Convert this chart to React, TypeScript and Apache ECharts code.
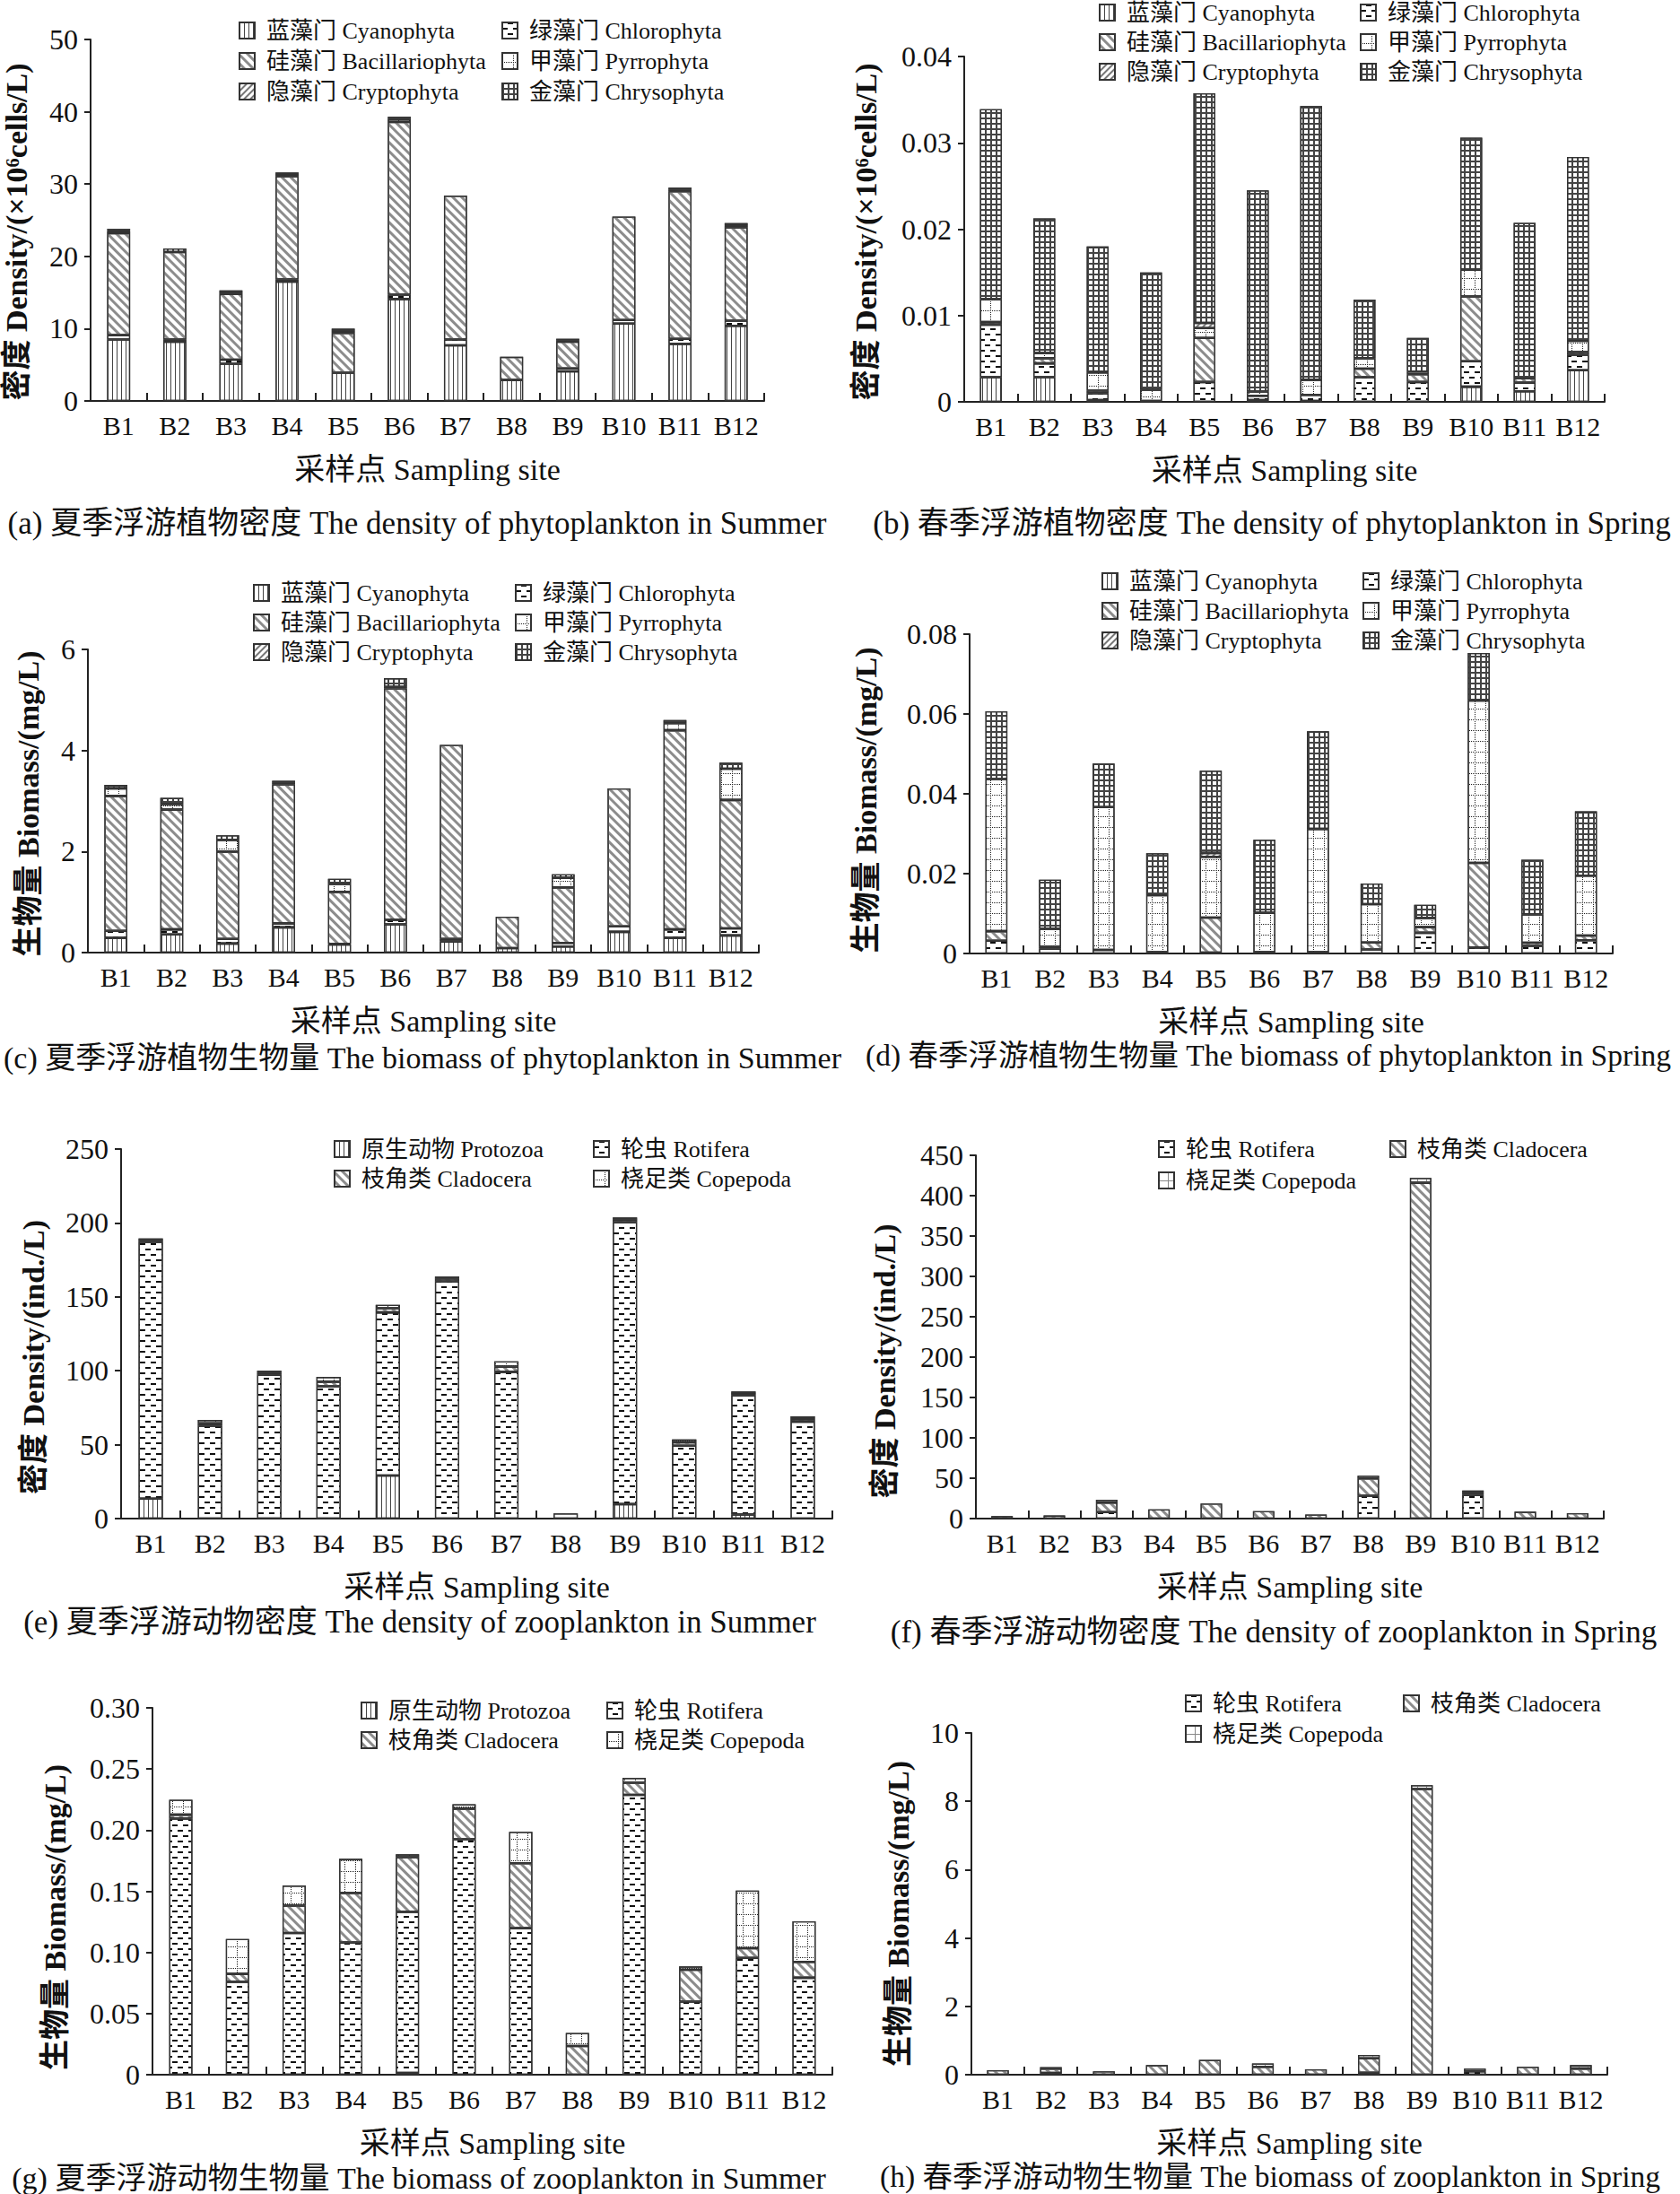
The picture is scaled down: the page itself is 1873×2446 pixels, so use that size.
import React, { useEffect, useRef } from 'react';
import * as echarts from 'echarts';

const sites = ['B1', 'B2', 'B3', 'B4', 'B5', 'B6', 'B7', 'B8', 'B9', 'B10', 'B11', 'B12'];

const phytoNames = ['蓝藻门 Cyanophyta', '绿藻门 Chlorophyta', '硅藻门 Bacillariophyta', '甲藻门 Pyrrophyta', '隐藻门 Cryptophyta', '金藻门 Chrysophyta'];
const zooNames4 = ['原生动物 Protozoa', '轮虫 Rotifera', '枝角类 Cladocera', '桡足类 Copepoda'];
const zooNames3 = ['轮虫 Rotifera', '枝角类 Cladocera', '桡足类 Copepoda'];

// (a) summer phytoplankton density, x10^6 cells/L
const aCyanophyta = [8.5, 8.2, 5.15, 16.5, 3.9, 14.1, 7.7, 2.9, 4.1, 10.7, 7.9, 10.4];
const aChlorophyta = [0.6, 0.3, 0.55, 0.3, 0, 0.6, 0.8, 0, 0.4, 0.5, 0.7, 0.7];
const aBacillariophyta = [14.1, 12.1, 9.1, 14.3, 5.5, 23.9, 19.9, 3.2, 3.7, 14.3, 20.4, 12.9];
const aPyrrophyta = [0.3, 0, 0.3, 0.3, 0.3, 0.4, 0, 0, 0.2, 0, 0.2, 0.3];
const aCryptophyta = [0.1, 0, 0, 0, 0, 0, 0, 0, 0, 0, 0, 0];
const aChrysophyta = [0.2, 0.5, 0.2, 0.2, 0.3, 0.3, 0, 0, 0.2, 0, 0.3, 0.3];

// (b) spring phytoplankton density
const bCyanophyta = [0.00285, 0.00285, 0.0002, 0.0001, 0, 0.0002, 0.0001, 0, 0, 0.00175, 0.00122, 0.00366];
const bChlorophyta = [0.0061, 0.0016, 0.0008, 0, 0.0023, 0.0005, 0.0007, 0.00285, 0.0023, 0.00295, 0.001, 0.0018];
const bBacillariophyta = [0.0003, 0.0006, 0.0003, 0, 0.0051, 0, 0, 0.001, 0.0009, 0.0075, 0.0005, 0.0003];
const bPyrrophyta = [0.00265, 0.0006, 0.0021, 0.0013, 0.00115, 0.0005, 0.00176, 0.0012, 0.0003, 0.0031, 0, 0.0013];
const bCryptophyta = [0, 0, 0, 0, 0.0006, 0, 0, 0, 0, 0, 0, 0];
const bChrysophyta = [0.022, 0.0156, 0.0146, 0.0136, 0.0266, 0.0233, 0.0317, 0.0068, 0.0039, 0.0153, 0.018, 0.0213];

// (c) summer phytoplankton biomass, mg/L
const cCyanophyta = [0.29, 0.36, 0.18, 0.5, 0.16, 0.56, 0.22, 0.09, 0.12, 0.41, 0.29, 0.34];
const cChlorophyta = [0.14, 0.1, 0.09, 0.08, 0.01, 0.09, 0.05, 0, 0.07, 0.11, 0.17, 0.14];
const cBacillariophyta = [2.67, 2.37, 1.73, 2.75, 1.03, 4.58, 3.84, 0.62, 1.1, 2.73, 3.94, 2.54];
const cPyrrophyta = [0.15, 0.11, 0.23, 0.03, 0.16, 0.03, 0, 0, 0.19, 0, 0.14, 0.62];
const cCryptophyta = [0, 0, 0, 0, 0, 0, 0, 0, 0, 0, 0, 0];
const cChrysophyta = [0.07, 0.12, 0.09, 0.04, 0.1, 0.17, 0, 0, 0.07, 0, 0.06, 0.12];

// (d) spring phytoplankton biomass
const dCyanophyta = [0, 0, 0, 0, 0, 0, 0, 0, 0, 0, 0, 0];
const dChlorophyta = [0.0032, 0.0012, 0.0009, 0.0003, 0.0002, 0.0003, 0.0003, 0.001, 0.0052, 0.0015, 0.0019, 0.0033];
const dBacillariophyta = [0.0024, 0.0005, 0, 0, 0.0088, 0, 0, 0.00175, 0.0014, 0.0212, 0.0008, 0.0012];
const dPyrrophyta = [0.0381, 0.0045, 0.0358, 0.0143, 0.0152, 0.0099, 0.0309, 0.0096, 0.0023, 0.0407, 0.0071, 0.015];
const dCryptophyta = [0, 0, 0, 0, 0.001, 0, 0, 0, 0, 0, 0, 0];
const dChrysophyta = [0.017, 0.0123, 0.0109, 0.0105, 0.0206, 0.0183, 0.0245, 0.0052, 0.0033, 0.0119, 0.0137, 0.0161];

// (e) summer zooplankton density, ind./L
const eProtozoa = [13.5, 0, 0, 0, 29.1, 0, 0, 0, 9.8, 0, 2.8, 0];
const eRotifera = [173.7, 62.8, 97.2, 89.5, 110.4, 160.5, 99.3, 3.5, 190.7, 49.3, 80.5, 65.6];
const eCladocera = [1.2, 1.6, 1.6, 3.1, 2.8, 1.8, 3.5, 0, 1.8, 2.3, 1.6, 1.8];
const eCopepoda = [1.1, 2.3, 1.2, 3.2, 2.3, 1.4, 3.5, 0, 1.4, 1.9, 1.1, 1.7];

// (f) spring zooplankton density
const fRotifera = [0, 0, 8.1, 0, 0, 0, 0, 28.4, 0, 29.3, 0, 0];
const fCladocera = [3.0, 3.8, 11.8, 11.5, 18.7, 9.3, 5.1, 21.3, 416, 2.5, 8.5, 6.8];
const fCopepoda = [0, 0, 3.4, 0, 0, 0, 0, 3.4, 5.9, 3.0, 0, 0];

// (g) summer zooplankton biomass, mg/L
const gProtozoa = [0, 0, 0, 0, 0.0014, 0, 0, 0, 0, 0, 0, 0];
const gRotifera = [0.2095, 0.076, 0.1159, 0.1081, 0.1318, 0.1925, 0.1198, 0, 0.2288, 0.0598, 0.0955, 0.0793];
const gCladocera = [0.0031, 0.0064, 0.0224, 0.0405, 0.0447, 0.0251, 0.0531, 0.0235, 0.01, 0.026, 0.0079, 0.0129];
const gCopepoda = [0.0123, 0.0285, 0.0164, 0.0279, 0.0023, 0.0036, 0.0257, 0.0106, 0.0039, 0.0027, 0.0472, 0.0332];

// (h) spring zooplankton biomass
const hRotifera = [0, 0.05, 0, 0, 0, 0, 0, 0.06, 0, 0.1, 0, 0];
const hCladocera = [0.13, 0.13, 0.1, 0.28, 0.43, 0.23, 0.16, 0.42, 8.36, 0.08, 0.23, 0.18];
const hCopepoda = [0, 0.04, 0, 0, 0, 0.1, 0, 0.1, 0.11, 0, 0, 0.1];

// ---------- styles ----------
const FONT = "'Liberation Serif', 'Times New Roman', 'Noto Sans CJK SC', serif";
const INK = '#222';

const decalVLine = { symbol: 'rect', symbolSize: 1, color: '#444', dashArrayX: [1, 4], dashArrayY: [10, 0] };
const decalDash = { symbol: 'rect', symbolSize: 1, color: '#111', dashArrayX: [[6, 6], [0, 6, 6, 0]], dashArrayY: [2, 4] };
const decalBack = { symbol: 'rect', symbolSize: 1, color: '#8c8c8c', dashArrayX: [10, 0], dashArrayY: [3, 4], rotation: Math.PI / 4 };
const decalFwd = { symbol: 'rect', symbolSize: 1, color: '#777', dashArrayX: [10, 0], dashArrayY: [2, 3], rotation: -Math.PI / 4 };
const decalDotGrid = { symbol: 'rect', symbolSize: 1, color: '#222', dashArrayX: [[1, 1], [1, 11], [1, 11], [1, 11], [1, 11], [1, 11]], dashArrayY: [1, 1] };
const decalGrid = { symbol: 'rect', symbolSize: 1, color: '#444', dashArrayX: [[1, 0], [1, 0], [2, 4], [2, 4], [2, 4], [2, 4]], dashArrayY: [1, 0] };
const decalGrayGrid = { symbol: 'rect', symbolSize: 1, color: '#888', dashArrayX: [[1, 0], [1, 9], [1, 9], [1, 9], [1, 9], [1, 9], [1, 9], [1, 9], [1, 9], [1, 9]], dashArrayY: [1, 0] };

const phytoDecals = [decalVLine, decalDash, decalBack, decalDotGrid, decalFwd, decalGrid];
const zoo4Decals = [decalVLine, decalDash, decalBack, decalDotGrid];
const zoo3Decals = [decalDash, decalBack, decalGrayGrid];

const fmtInt = (v: number) => String(Math.round(v));
const fmt2 = (v: number) => (v === 0 ? '0' : v.toFixed(2));

const Y_DENS_PHYTO = '密度 Density/(×10⁶cells/L)';
const Y_BIO = '生物量 Biomass/(mg/L)';
const Y_DENS_ZOO = '密度 Density/(ind./L)';

type Panel = {
  key: string;
  grid: { left: number; top: number; width: number; height: number };
  max: number;
  interval: number;
  fmt: (v: number) => string;
  yName: string;
  yGap: number;
  yShift: number;
  names: string[];
  values: number[][];
  decals: any[];
  col1: string[];
  col2: string[];
  legend: { top: number; c1: number; c2: number; gap: number };
  caption: { x: number; y: number; size: number; text: string };
};

const phytoCol1 = [phytoNames[0], phytoNames[2], phytoNames[4]];
const phytoCol2 = [phytoNames[1], phytoNames[3], phytoNames[5]];
const zoo4Col1 = [zooNames4[0], zooNames4[2]];
const zoo4Col2 = [zooNames4[1], zooNames4[3]];
const zoo3Col1 = [zooNames3[0], zooNames3[2]];
const zoo3Col2 = [zooNames3[1]];

const panels: Panel[] = [
  {
    key: 'a', grid: { left: 99, top: 44, width: 753, height: 403 }, max: 50, interval: 10, fmt: fmtInt,
    yName: Y_DENS_PHYTO, yGap: 66, yShift: 13, names: phytoNames,
    values: [aCyanophyta, aChlorophyta, aBacillariophyta, aPyrrophyta, aCryptophyta, aChrysophyta], decals: phytoDecals,
    col1: phytoCol1, col2: phytoCol2, legend: { top: 21, c1: 266, c2: 559, gap: 8 },
    caption: { x: 465, y: 583, size: 35, text: '(a) 夏季浮游植物密度 The density of phytoplankton in Summer' },
  },
  {
    key: 'b', grid: { left: 1075, top: 63, width: 714, height: 385 }, max: 0.04, interval: 0.01, fmt: fmt2,
    yName: Y_DENS_PHYTO, yGap: 93, yShift: 3, names: phytoNames,
    values: [bCyanophyta, bChlorophyta, bBacillariophyta, bPyrrophyta, bCryptophyta, bChrysophyta], decals: phytoDecals,
    col1: phytoCol1, col2: phytoCol2, legend: { top: 1, c1: 1225, c2: 1516, gap: 7 },
    caption: { x: 1418, y: 583, size: 35, text: '(b) 春季浮游植物密度 The density of phytoplankton in Spring' },
  },
  {
    key: 'c', grid: { left: 98, top: 724, width: 748, height: 338 }, max: 6, interval: 2, fmt: fmtInt,
    yName: Y_BIO, yGap: 50, yShift: 3, names: phytoNames,
    values: [cCyanophyta, cChlorophyta, cBacillariophyta, cPyrrophyta, cCryptophyta, cChrysophyta], decals: phytoDecals,
    col1: phytoCol1, col2: phytoCol2, legend: { top: 648, c1: 282, c2: 574, gap: 7 },
    caption: { x: 471, y: 1179, size: 34, text: '(c) 夏季浮游植物生物量 The biomass of phytoplankton in Summer' },
  },
  {
    key: 'd', grid: { left: 1081, top: 707, width: 717, height: 356 }, max: 0.08, interval: 0.02, fmt: fmt2,
    yName: Y_BIO, yGap: 99, yShift: 7, names: phytoNames,
    values: [dCyanophyta, dChlorophyta, dBacillariophyta, dPyrrophyta, dCryptophyta, dChrysophyta], decals: phytoDecals,
    col1: phytoCol1, col2: phytoCol2, legend: { top: 635, c1: 1228, c2: 1519, gap: 7 },
    caption: { x: 1414, y: 1176, size: 33.5, text: '(d) 春季浮游植物生物量 The biomass of phytoplankton in Spring' },
  },
  {
    key: 'e', grid: { left: 135, top: 1281, width: 793, height: 412 }, max: 250, interval: 50, fmt: fmtInt,
    yName: Y_DENS_ZOO, yGap: 81, yShift: 26, names: zooNames4,
    values: [eProtozoa, eRotifera, eCladocera, eCopepoda], decals: zoo4Decals,
    col1: zoo4Col1, col2: zoo4Col2, legend: { top: 1268, c1: 372, c2: 661, gap: 7 },
    caption: { x: 468, y: 1808, size: 35, text: '(e) 夏季浮游动物密度 The density of zooplankton in Summer' },
  },
  {
    key: 'f', grid: { left: 1088, top: 1288, width: 700, height: 405 }, max: 450, interval: 50, fmt: fmtInt,
    yName: Y_DENS_ZOO, yGap: 85, yShift: 27, names: zooNames3,
    values: [fRotifera, fCladocera, fCopepoda], decals: zoo3Decals,
    col1: zoo3Col1, col2: zoo3Col2, legend: { top: 1268, c1: 1291, c2: 1549, gap: 9 },
    caption: { x: 1420, y: 1819, size: 35, text: '(f) 春季浮游动物密度 The density of zooplankton in Spring' },
  },
  {
    key: 'g', grid: { left: 170, top: 1904, width: 758, height: 409 }, max: 0.3, interval: 0.05, fmt: fmt2,
    yName: Y_BIO, yGap: 92, yShift: 29, names: zooNames4,
    values: [gProtozoa, gRotifera, gCladocera, gCopepoda], decals: zoo4Decals,
    col1: zoo4Col1, col2: zoo4Col2, legend: { top: 1894, c1: 402, c2: 676, gap: 7 },
    caption: { x: 467, y: 2428, size: 34, text: '(g) 夏季浮游动物生物量 The biomass of zooplankton in Summer' },
  },
  {
    key: 'h', grid: { left: 1083, top: 1932, width: 709, height: 381 }, max: 10, interval: 2, fmt: fmtInt,
    yName: Y_BIO, yGap: 65, yShift: 11, names: zooNames3,
    values: [hRotifera, hCladocera, hCopepoda], decals: zoo3Decals,
    col1: zoo3Col1, col2: zoo3Col2, legend: { top: 1886, c1: 1321, c2: 1564, gap: 8 },
    caption: { x: 1416, y: 2426, size: 33.5, text: '(h) 春季浮游动物生物量 The biomass of zooplankton in Spring' },
  },
];

function buildOption() {
  const grid: any[] = [];
  const xAxis: any[] = [];
  const yAxis: any[] = [];
  const series: any[] = [];
  const legend: any[] = [];
  const title: any[] = [];

  panels.forEach((p, i) => {
    grid.push({ ...p.grid, containLabel: false });
    xAxis.push({
      type: 'category', gridIndex: i, data: sites,
      name: '采样点 Sampling site', nameLocation: 'middle', nameGap: 59,
      nameTextStyle: { fontFamily: FONT, fontSize: 34, color: '#111' },
      axisLine: { show: true, lineStyle: { color: INK, width: 2 } },
      axisTick: { show: true, inside: true, length: 9, alignWithLabel: false, lineStyle: { color: INK, width: 2 } },
      axisLabel: { interval: 0, fontFamily: FONT, fontSize: 30, color: '#111', margin: 12 },
      splitLine: { show: false },
    });
    yAxis.push({
      type: 'value', gridIndex: i, min: 0, max: p.max, interval: p.interval,
      name: p.yName, nameLocation: 'middle', nameGap: p.yGap,
      nameTextStyle: { fontFamily: FONT, fontSize: 34, fontWeight: 'bold', color: '#111', padding: [0, p.yShift * 2, 0, 0] },
      axisLine: { show: true, lineStyle: { color: INK, width: 2 } },
      axisTick: { show: true, inside: false, length: 7, lineStyle: { color: INK, width: 2 } },
      axisLabel: { fontFamily: FONT, fontSize: 32, color: '#111', margin: 14, formatter: p.fmt },
      splitLine: { show: false },
    });
    p.names.forEach((n, k) => {
      series.push({
        type: 'bar', name: p.key + '|' + n, stack: p.key, xAxisIndex: i, yAxisIndex: i,
        data: p.values[k].map((v) => (v === 0 ? null : v)),
        barWidth: '41%',
        itemStyle: { color: '#ffffff', borderColor: '#333', borderWidth: 1.3, decal: p.decals[k] },
        emphasis: { disabled: true },
      });
    });
    const legendBase = {
      orient: 'vertical', top: p.legend.top, itemWidth: 17, itemHeight: 18, itemGap: p.legend.gap,
      padding: 0, selectedMode: false, icon: 'rect',
      formatter: (name: string) => name.split('|')[1],
      textStyle: { fontFamily: FONT, fontSize: 26, color: '#111', padding: [0, 0, 0, 8] },
    };
    legend.push({ ...legendBase, left: p.legend.c1, data: p.col1.map((n) => p.key + '|' + n) });
    legend.push({ ...legendBase, left: p.legend.c2, data: p.col2.map((n) => p.key + '|' + n) });
    title.push({
      text: p.caption.text, left: p.caption.x, top: p.caption.y, textAlign: 'center', textVerticalAlign: 'middle',
      padding: 0, textStyle: { fontFamily: FONT, fontSize: p.caption.size, fontWeight: 'normal', color: '#111' },
    });
  });

  return {
    animation: false,
    backgroundColor: '#ffffff',
    title, grid, xAxis, yAxis, series, legend,
    tooltip: { show: false },
  };
}

export default function App() {
  const ref = useRef<HTMLDivElement>(null);
  useEffect(() => {
    if (!ref.current) return;
    const chart = echarts.init(ref.current, undefined, { renderer: 'svg' });
    chart.setOption(buildOption() as any);
    return () => chart.dispose();
  }, []);
  return <div ref={ref} style={{ position: 'absolute', left: 0, top: 0, width: 1873, height: 2446, background: '#fff' }} />;
}
